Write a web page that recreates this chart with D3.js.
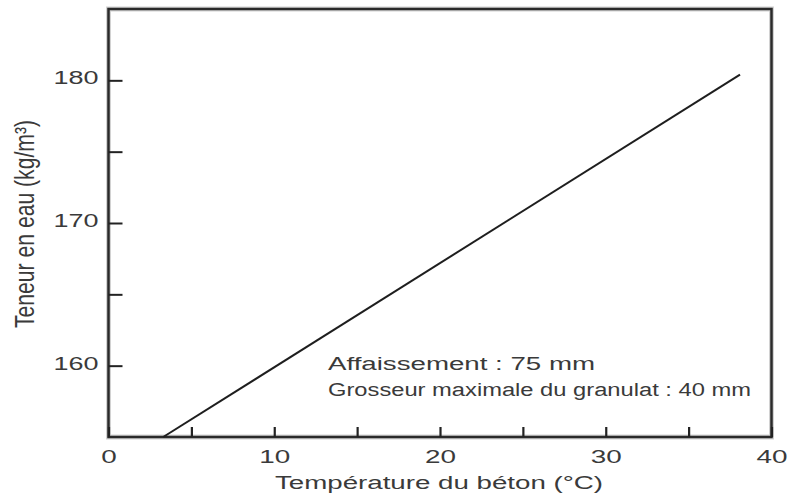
<!DOCTYPE html>
<html>
<head>
<meta charset="utf-8">
<script src="https://cdn.jsdelivr.net/npm/d3@7/dist/d3.min.js"></script>
<style>
  html, body { margin: 0; padding: 0; background: #fff; }
  svg { display: block; }
  text { font-family: "Liberation Sans", Arial, Helvetica, sans-serif; fill: #3a3a3a; }
</style>
</head>
<body>
<script>
// Water content of concrete vs. concrete temperature
const temperature = [3.3, 38.1];          // °C
const waterContent = [155, 180.4];        // kg/m³
const xTicks = [0, 5, 10, 15, 20, 25, 30, 35, 40];
const xTickLabels = ["0", "", "10", "", "20", "", "30", "", "40"];
const yTicks = [160, 165, 170, 175, 180];
const yTickLabels = ["160", "", "170", "", "180"];
const notes = ["Affaissement : 75 mm", "Grosseur maximale du granulat : 40 mm"];
const xTitle = "Température du béton (°C)";
const yTitle = "Teneur en eau (kg/m³)";

const W = 789, H = 497;
const plotL = 108.5, plotR = 771.5, plotT = 9, plotB = 437;
const FS = 18;

const svg = d3.select("body").append("svg").attr("width", W).attr("height", H);

const x = d3.scaleLinear().domain([0, 40]).range([plotL, plotR]);
const y = d3.scaleLinear().domain([155, 185]).range([plotB, plotT]);

// frame (soft halo + dark border)
svg.append("rect")
  .attr("x", plotL).attr("y", plotT).attr("width", plotR - plotL).attr("height", plotB - plotT)
  .attr("fill", "none").attr("stroke", "#d2d2d2").attr("stroke-width", 5);
svg.append("rect")
  .attr("x", plotL).attr("y", plotT).attr("width", plotR - plotL).attr("height", plotB - plotT)
  .attr("fill", "none").attr("stroke", "#2a2a2a").attr("stroke-width", 2.5);

// x axis: inward ticks, labels below
const xAxis = d3.axisBottom(x)
  .tickValues(xTicks)
  .tickSizeInner(-10).tickSizeOuter(0)
  .tickPadding(13)
  .tickFormat((d, i) => xTickLabels[i]);
const gx = svg.append("g").attr("transform", `translate(0,${plotB})`).call(xAxis);
gx.select(".domain").remove();
gx.selectAll(".tick line").attr("stroke", "#222").attr("stroke-width", 2.2);
gx.selectAll(".tick text")
  .attr("font-size", FS).attr("fill", "#3a3a3a")
  .each(function () {
    const t = d3.select(this).text();
    if (t) d3.select(this).attr("textLength", 15.5 * t.length).attr("lengthAdjust", "spacingAndGlyphs");
  });

// y axis: inward ticks, labels left
const yAxis = d3.axisLeft(y)
  .tickValues(yTicks)
  .tickSizeInner(-14).tickSizeOuter(0)
  .tickPadding(10)
  .tickFormat((d, i) => yTickLabels[i]);
const gy = svg.append("g").attr("transform", `translate(${plotL},0)`).call(yAxis);
gy.select(".domain").remove();
gy.selectAll(".tick line").attr("stroke", "#222").attr("stroke-width", 2);
gy.selectAll(".tick text")
  .attr("font-size", FS).attr("fill", "#3a3a3a").attr("dy", "0.2em")
  .each(function () {
    const t = d3.select(this).text();
    if (t) d3.select(this).attr("textLength", 15 * t.length).attr("lengthAdjust", "spacingAndGlyphs");
  });

// data line
const pts = temperature.map((t, i) => [t, waterContent[i]]);
svg.append("path")
  .datum(pts)
  .attr("fill", "none").attr("stroke", "#1e1e1e").attr("stroke-width", 2)
  .attr("d", d3.line().x(d => x(d[0])).y(d => y(d[1])));

// notes
const noteLen = [267, 423];
svg.selectAll("text.note").data(notes).join("text")
  .attr("class", "note")
  .attr("x", 328).attr("y", (d, i) => 370 + i * 26)
  .attr("font-size", FS)
  .attr("textLength", (d, i) => noteLen[i]).attr("lengthAdjust", "spacingAndGlyphs")
  .text(d => d);

// axis titles
svg.append("text")
  .attr("x", 439).attr("y", 489)
  .attr("text-anchor", "middle").attr("font-size", FS)
  .attr("textLength", 328).attr("lengthAdjust", "spacingAndGlyphs")
  .text(xTitle);

svg.append("text")
  .attr("transform", "translate(34,224) scale(1.5,1) rotate(-90)")
  .attr("text-anchor", "middle").attr("font-size", FS)
  .attr("textLength", 208).attr("lengthAdjust", "spacingAndGlyphs")
  .text(yTitle);
</script>
</body>
</html>
